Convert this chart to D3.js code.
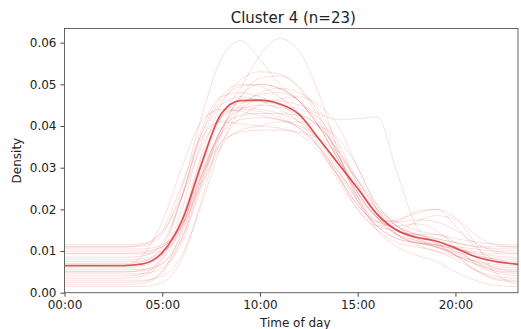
<!DOCTYPE html>
<html><head><meta charset="utf-8">
<script src="https://cdn.jsdelivr.net/npm/d3@7"></script>
<style>body{margin:0;background:#fff}svg{display:block}text{font-family:"DejaVu Sans",sans-serif;fill:#222}</style>
</head><body>
<script>
const title = "Cluster 4 (n=23)";
const xLabel = "Time of day";
const yLabel = "Density";
const hours = [0,1,2,3,4,5,6,7,8,9,10,11,12,13,14,15,16,17,18,19,20,21,22,23,23.2];
const xTicks = [0,5,10,15,20];
const xTickLabels = ["00:00","05:00","10:00","15:00","20:00"];
const yTicks = [0,0.01,0.02,0.03,0.04,0.05,0.06];
const meanCurve = [0.0065,0.0065,0.0065,0.0065,0.0069,0.0096,0.0172,0.0308,0.0428,0.0461,0.0462,0.0453,0.0428,0.0370,0.0310,0.0250,0.0188,0.0150,0.0133,0.0124,0.0107,0.0087,0.0075,0.0069,0.0068];
const c01 = [0.0115,0.0115,0.0115,0.0115,0.0118,0.0150,0.0260,0.0380,0.0460,0.0495,0.0500,0.0490,0.0460,0.0400,0.0320,0.0250,0.0200,0.0170,0.0150,0.0140,0.0130,0.0122,0.0117,0.0115,0.0115];
const c02 = [0.0110,0.0110,0.0110,0.0110,0.0112,0.0140,0.0250,0.0420,0.0560,0.0605,0.0560,0.0500,0.0460,0.0400,0.0320,0.0240,0.0180,0.0150,0.0140,0.0130,0.0120,0.0112,0.0110,0.0110,0.0110];
const c03 = [0.0100,0.0100,0.0100,0.0100,0.0100,0.0110,0.0170,0.0300,0.0420,0.0490,0.0570,0.0610,0.0580,0.0480,0.0340,0.0220,0.0160,0.0130,0.0120,0.0115,0.0110,0.0105,0.0100,0.0100,0.0100];
const c04 = [0.0093,0.0093,0.0093,0.0093,0.0093,0.0100,0.0150,0.0270,0.0380,0.0440,0.0460,0.0460,0.0450,0.0430,0.0415,0.0418,0.0422,0.0290,0.0160,0.0120,0.0105,0.0098,0.0094,0.0093,0.0093];
const c05 = [0.0080,0.0080,0.0080,0.0080,0.0082,0.0100,0.0180,0.0330,0.0450,0.0510,0.0530,0.0525,0.0490,0.0420,0.0330,0.0250,0.0190,0.0150,0.0125,0.0110,0.0098,0.0088,0.0082,0.0080,0.0080];
const c06 = [0.0070,0.0070,0.0070,0.0070,0.0075,0.0110,0.0230,0.0390,0.0470,0.0480,0.0470,0.0450,0.0420,0.0360,0.0280,0.0200,0.0160,0.0170,0.0195,0.0200,0.0160,0.0110,0.0080,0.0071,0.0070];
const c07 = [0.0060,0.0060,0.0060,0.0060,0.0065,0.0090,0.0170,0.0320,0.0420,0.0455,0.0460,0.0450,0.0440,0.0420,0.0350,0.0260,0.0180,0.0140,0.0120,0.0110,0.0095,0.0075,0.0063,0.0060,0.0060];
const c08 = [0.0050,0.0050,0.0050,0.0050,0.0052,0.0070,0.0140,0.0280,0.0390,0.0425,0.0430,0.0430,0.0425,0.0400,0.0340,0.0270,0.0200,0.0150,0.0140,0.0140,0.0120,0.0085,0.0060,0.0051,0.0050];
const c09 = [0.0040,0.0040,0.0040,0.0040,0.0045,0.0090,0.0230,0.0370,0.0410,0.0405,0.0400,0.0395,0.0380,0.0340,0.0280,0.0210,0.0170,0.0160,0.0165,0.0150,0.0110,0.0070,0.0048,0.0041,0.0040];
const c10 = [0.0030,0.0030,0.0030,0.0030,0.0030,0.0040,0.0090,0.0210,0.0350,0.0440,0.0480,0.0490,0.0480,0.0440,0.0360,0.0270,0.0200,0.0160,0.0140,0.0120,0.0090,0.0055,0.0035,0.0030,0.0030];
const c11 = [0.0020,0.0020,0.0020,0.0020,0.0022,0.0050,0.0150,0.0310,0.0420,0.0445,0.0440,0.0430,0.0410,0.0370,0.0300,0.0220,0.0160,0.0150,0.0170,0.0185,0.0175,0.0120,0.0050,0.0022,0.0020];
const c12 = [0.0105,0.0105,0.0105,0.0105,0.0105,0.0115,0.0160,0.0260,0.0360,0.0420,0.0450,0.0465,0.0470,0.0450,0.0400,0.0300,0.0210,0.0160,0.0140,0.0130,0.0120,0.0110,0.0106,0.0105,0.0105];
const c13 = [0.0085,0.0085,0.0085,0.0085,0.0088,0.0120,0.0230,0.0380,0.0470,0.0500,0.0495,0.0470,0.0430,0.0370,0.0290,0.0220,0.0170,0.0140,0.0125,0.0115,0.0105,0.0095,0.0088,0.0085,0.0085];
const c14 = [0.0065,0.0065,0.0065,0.0065,0.0090,0.0170,0.0300,0.0410,0.0440,0.0435,0.0425,0.0415,0.0395,0.0350,0.0290,0.0230,0.0180,0.0140,0.0115,0.0100,0.0088,0.0076,0.0068,0.0065,0.0065];
const c15 = [0.0055,0.0055,0.0055,0.0055,0.0056,0.0070,0.0130,0.0260,0.0390,0.0470,0.0515,0.0520,0.0495,0.0430,0.0330,0.0230,0.0160,0.0130,0.0120,0.0110,0.0090,0.0070,0.0058,0.0055,0.0055];
const c16 = [0.0045,0.0045,0.0045,0.0045,0.0046,0.0060,0.0120,0.0250,0.0350,0.0390,0.0400,0.0410,0.0410,0.0400,0.0370,0.0300,0.0200,0.0140,0.0120,0.0115,0.0100,0.0075,0.0052,0.0046,0.0045];
const c17 = [0.0035,0.0035,0.0035,0.0035,0.0040,0.0080,0.0200,0.0360,0.0450,0.0470,0.0460,0.0440,0.0410,0.0350,0.0270,0.0200,0.0150,0.0120,0.0110,0.0100,0.0080,0.0055,0.0040,0.0035,0.0035];
const c18 = [0.0025,0.0025,0.0025,0.0025,0.0027,0.0050,0.0130,0.0270,0.0390,0.0440,0.0450,0.0445,0.0430,0.0400,0.0340,0.0260,0.0190,0.0150,0.0130,0.0115,0.0090,0.0055,0.0032,0.0026,0.0025];
const c19 = [0.0095,0.0095,0.0095,0.0095,0.0096,0.0110,0.0160,0.0280,0.0390,0.0450,0.0475,0.0480,0.0460,0.0410,0.0330,0.0240,0.0180,0.0170,0.0175,0.0170,0.0150,0.0120,0.0100,0.0095,0.0095];
const c20 = [0.0075,0.0075,0.0075,0.0075,0.0077,0.0095,0.0160,0.0290,0.0380,0.0415,0.0420,0.0415,0.0400,0.0370,0.0310,0.0240,0.0180,0.0150,0.0135,0.0125,0.0110,0.0092,0.0080,0.0075,0.0075];
const c21 = [0.0015,0.0015,0.0015,0.0015,0.0015,0.0025,0.0080,0.0220,0.0380,0.0470,0.0500,0.0490,0.0460,0.0400,0.0320,0.0230,0.0150,0.0110,0.0090,0.0075,0.0050,0.0030,0.0018,0.0015,0.0015];
const c22 = [0.0110,0.0110,0.0110,0.0110,0.0115,0.0145,0.0230,0.0350,0.0420,0.0440,0.0435,0.0420,0.0395,0.0350,0.0280,0.0210,0.0170,0.0175,0.0190,0.0200,0.0180,0.0140,0.0115,0.0110,0.0110];
const c23 = [0.0050,0.0050,0.0050,0.0050,0.0055,0.0080,0.0160,0.0280,0.0360,0.0385,0.0390,0.0390,0.0385,0.0370,0.0330,0.0270,0.0210,0.0160,0.0130,0.0110,0.0090,0.0068,0.0054,0.0050,0.0050];
const members = [c01,c02,c03,c04,c05,c06,c07,c08,c09,c10,c11,c12,c13,c14,c15,c16,c17,c18,c19,c20,c21,c22,c23];

const W = 521, H = 329;
const L = 64.5, R = 518, T = 28.5, B = 292.7;
const x = d3.scaleLinear().domain([0, 23.2]).range([L, R]);
const y = d3.scaleLinear().domain([0, 0.0634]).range([B, T]);

const svg = d3.select("body").append("svg").attr("width", W).attr("height", H);
svg.append("defs").append("clipPath").attr("id","clip")
  .append("rect").attr("x", L).attr("y", T).attr("width", R - L).attr("height", B - T);

const line = d3.line().x((d, i) => x(hours[i])).y(d => y(d)).curve(d3.curveMonotoneX);
const g = svg.append("g").attr("clip-path", "url(#clip)");
g.selectAll("path.m").data(members).enter().append("path")
  .attr("class","m").attr("d", line).attr("fill","none")
  .attr("stroke","#d62728").attr("stroke-opacity",0.15).attr("stroke-width",1);
g.append("path").attr("d", line(meanCurve)).attr("fill","none")
  .attr("stroke","#d6373c").attr("stroke-opacity",0.85).attr("stroke-width",1.7);

const xAxis = d3.axisBottom(x).tickValues(xTicks).tickFormat((d, i) => xTickLabels[i]).tickSize(4).tickPadding(4);
const yAxis = d3.axisLeft(y).tickValues(yTicks).tickFormat(d3.format(".2f")).tickSize(4).tickPadding(4);
const gx = svg.append("g").attr("transform", `translate(0,${B})`).call(xAxis);
const gy = svg.append("g").attr("transform", `translate(${L},0)`).call(yAxis);
[gx, gy].forEach(a => {
  a.select(".domain").remove();
  a.selectAll("line").attr("stroke", "#333").attr("stroke-width", 0.9);
  a.selectAll("text").attr("font-size", 12).attr("fill", "#222").style("font-family", '"DejaVu Sans",sans-serif');
});
svg.append("rect").attr("x", L).attr("y", T).attr("width", R - L).attr("height", B - T)
  .attr("fill","none").attr("stroke","#555").attr("stroke-width",0.9);

svg.append("text").attr("x", (L + R) / 2 + 2).attr("y", 22.5).attr("text-anchor","middle")
  .attr("font-size", 15).text(title);
svg.append("text").attr("x", (L + R) / 2 + 4).attr("y", 326.5).attr("text-anchor","middle")
  .attr("font-size", 12).text(xLabel);
svg.append("text").attr("transform", `translate(21,${(T + B) / 2}) rotate(-90)`).attr("text-anchor","middle")
  .attr("font-size", 12).text(yLabel);
</script>
</body></html>
